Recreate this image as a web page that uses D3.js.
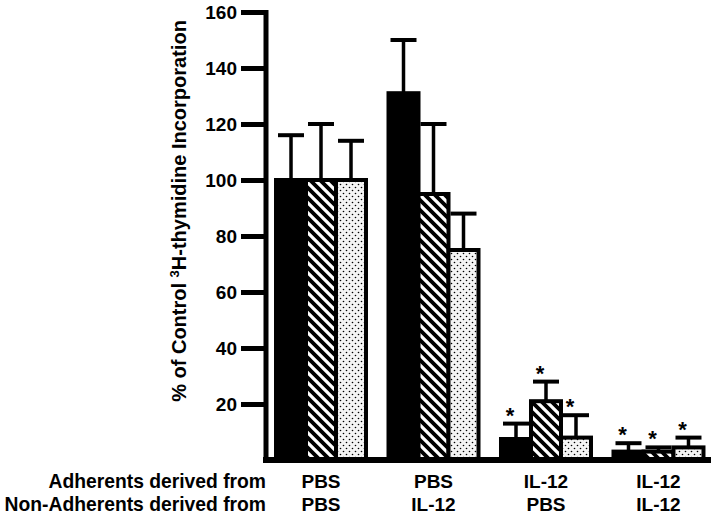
<!DOCTYPE html>
<meta charset="utf-8">
<html>
<script src="https://d3js.org/d3.v7.min.js"></script>
<body style="margin:0;background:#fff;">
<style>
    text {
        font-family: "Liberation Sans", Arial, sans-serif;
        font-weight: bold;
        fill: #000;
    }
</style>
<div id="chart"></div>
<script>
    // data
    var groups = ["A", "B", "C", "D"];
    var adherentsFrom = ["PBS", "PBS", "IL-12", "IL-12"];
    var nonAdherentsFrom = ["PBS", "IL-12", "PBS", "IL-12"];
    var seriesNames = ["solid", "hatched", "dotted"];
    var solidMean = [100, 131, 7.5, 3];
    var solidErr = [16, 19, 5.5, 3];
    var hatchedMean = [100, 95, 21, 3];
    var hatchedErr = [20, 25, 7, 1.5];
    var dottedMean = [100, 75, 8, 4.5];
    var dottedErr = [14, 13, 8, 3.5];
    var starred = [false, false, true, true];
    var yTicks = [20, 40, 60, 80, 100, 120, 140, 160];

    var W = 720, H = 516;

    var svg = d3.select("#chart").append("svg")
        .attr("width", W)
        .attr("height", H);

    // patterns
    var defs = svg.append("defs");
    var hatch = defs.append("pattern")
        .attr("id", "hatch")
        .attr("patternUnits", "userSpaceOnUse")
        .attr("width", 10).attr("height", 10);
    hatch.append("rect").attr("width", 10).attr("height", 10).attr("fill", "#fff");
    hatch.append("path")
        .attr("d", "M-5,5 L5,15 M0,0 L10,10 M5,-5 L15,5")
        .attr("stroke", "#000")
        .attr("stroke-width", 3.8);

    var dots = defs.append("pattern")
        .attr("id", "dots")
        .attr("patternUnits", "userSpaceOnUse")
        .attr("width", 6).attr("height", 6);
    dots.append("rect").attr("width", 6).attr("height", 6).attr("fill", "#f4f4f4");
    dots.append("circle").attr("cx", 1.5).attr("cy", 1.5).attr("r", 0.8).attr("fill", "#000");
    dots.append("circle").attr("cx", 4.5).attr("cy", 4.5).attr("r", 0.8).attr("fill", "#000");

    var fills = {solid: "#000", hatched: "url(#hatch)", dotted: "url(#dots)"};

    // scales
    var x0 = d3.scaleBand().domain(groups).range([266, 713.5])
        .paddingInner(0.2).paddingOuter(0.089);
    var x1 = d3.scaleBand().domain(seriesNames).range([0, x0.bandwidth()]);
    var y = d3.scaleLinear().domain([0, 160]).range([460, 12]);

    // build rows
    var rows = [];
    groups.forEach(function(g, i) {
        rows.push({g: g, s: "solid", v: solidMean[i], e: solidErr[i], star: starred[i]});
        rows.push({g: g, s: "hatched", v: hatchedMean[i], e: hatchedErr[i], star: starred[i]});
        rows.push({g: g, s: "dotted", v: dottedMean[i], e: dottedErr[i], star: starred[i]});
    });

    var cx = function(d) { return x0(d.g) + x1(d.s) + x1.bandwidth() / 2; };

    // error bars
    svg.selectAll(".stem").data(rows).enter().append("line")
        .attr("x1", cx).attr("x2", cx)
        .attr("y1", function(d) { return y(d.v); })
        .attr("y2", function(d) { return y(d.v + d.e); })
        .attr("stroke", "#000").attr("stroke-width", 3.5);
    svg.selectAll(".cap").data(rows).enter().append("line")
        .attr("x1", function(d) { return cx(d) - 13; })
        .attr("x2", function(d) { return cx(d) + 13; })
        .attr("y1", function(d) { return y(d.v + d.e); })
        .attr("y2", function(d) { return y(d.v + d.e); })
        .attr("stroke", "#000").attr("stroke-width", 4);

    // bars
    svg.selectAll(".bar").data(rows).enter().append("rect")
        .attr("x", function(d) { return x0(d.g) + x1(d.s); })
        .attr("width", x1.bandwidth())
        .attr("y", function(d) { return y(d.v); })
        .attr("height", function(d) { return y(0) - y(d.v); })
        .attr("fill", function(d) { return fills[d.s]; })
        .attr("stroke", "#000")
        .attr("stroke-width", 4);

    // asterisks
    svg.selectAll(".star").data(rows.filter(function(d) { return d.star; })).enter().append("text")
        .attr("x", function(d) { return cx(d) - 6; })
        .attr("y", function(d) { return y(d.v + d.e) - 1; })
        .attr("text-anchor", "middle")
        .style("font-size", "22px")
        .text("*");

    // y axis
    var yAxis = svg.append("g")
        .attr("transform", "translate(266,0)")
        .call(d3.axisLeft(y).tickValues(yTicks).tickSize(25).tickPadding(4));
    yAxis.select(".domain").remove();
    yAxis.selectAll(".tick line").attr("stroke", "#000").attr("stroke-width", 5);
    yAxis.selectAll(".tick text")
        .style("font-size", "19px")
        .style("font-family", "'Liberation Sans', Arial, sans-serif")
        .style("font-weight", "bold")
        .attr("fill", "#000");
    svg.append("line")
        .attr("x1", 266).attr("x2", 266)
        .attr("y1", y(160) - 2).attr("y2", y(0) + 3)
        .attr("stroke", "#000").attr("stroke-width", 5);

    // x axis baseline
    svg.append("line")
        .attr("x1", 263).attr("x2", 711)
        .attr("y1", y(0)).attr("y2", y(0))
        .attr("stroke", "#000").attr("stroke-width", 6);

    // y label
    var yl = svg.append("text")
        .attr("transform", "translate(186,211) rotate(-90)")
        .attr("text-anchor", "middle")
        .style("font-size", "20px");
    yl.append("tspan").text("% of Control ");
    yl.append("tspan").attr("dy", -7).style("font-size", "13px").text("3");
    yl.append("tspan").attr("dy", 7).text("H-thymidine Incorporation");

    // category rows
    svg.append("text").attr("x", 266).attr("y", 488).attr("text-anchor", "end")
        .style("font-size", "19.3px").text("Adherents derived from");
    svg.append("text").attr("x", 266).attr("y", 511).attr("text-anchor", "end")
        .style("font-size", "19.3px").text("Non-Adherents derived from");

    svg.selectAll(".adh").data(groups).enter().append("text")
        .attr("x", function(d) { return x0(d) + x0.bandwidth() / 2; })
        .attr("y", 488)
        .attr("text-anchor", "middle")
        .style("font-size", "19px")
        .text(function(d, i) { return adherentsFrom[i]; });
    svg.selectAll(".nonadh").data(groups).enter().append("text")
        .attr("x", function(d) { return x0(d) + x0.bandwidth() / 2; })
        .attr("y", 511)
        .attr("text-anchor", "middle")
        .style("font-size", "19px")
        .text(function(d, i) { return nonAdherentsFrom[i]; });
</script>
</body>
</html>
